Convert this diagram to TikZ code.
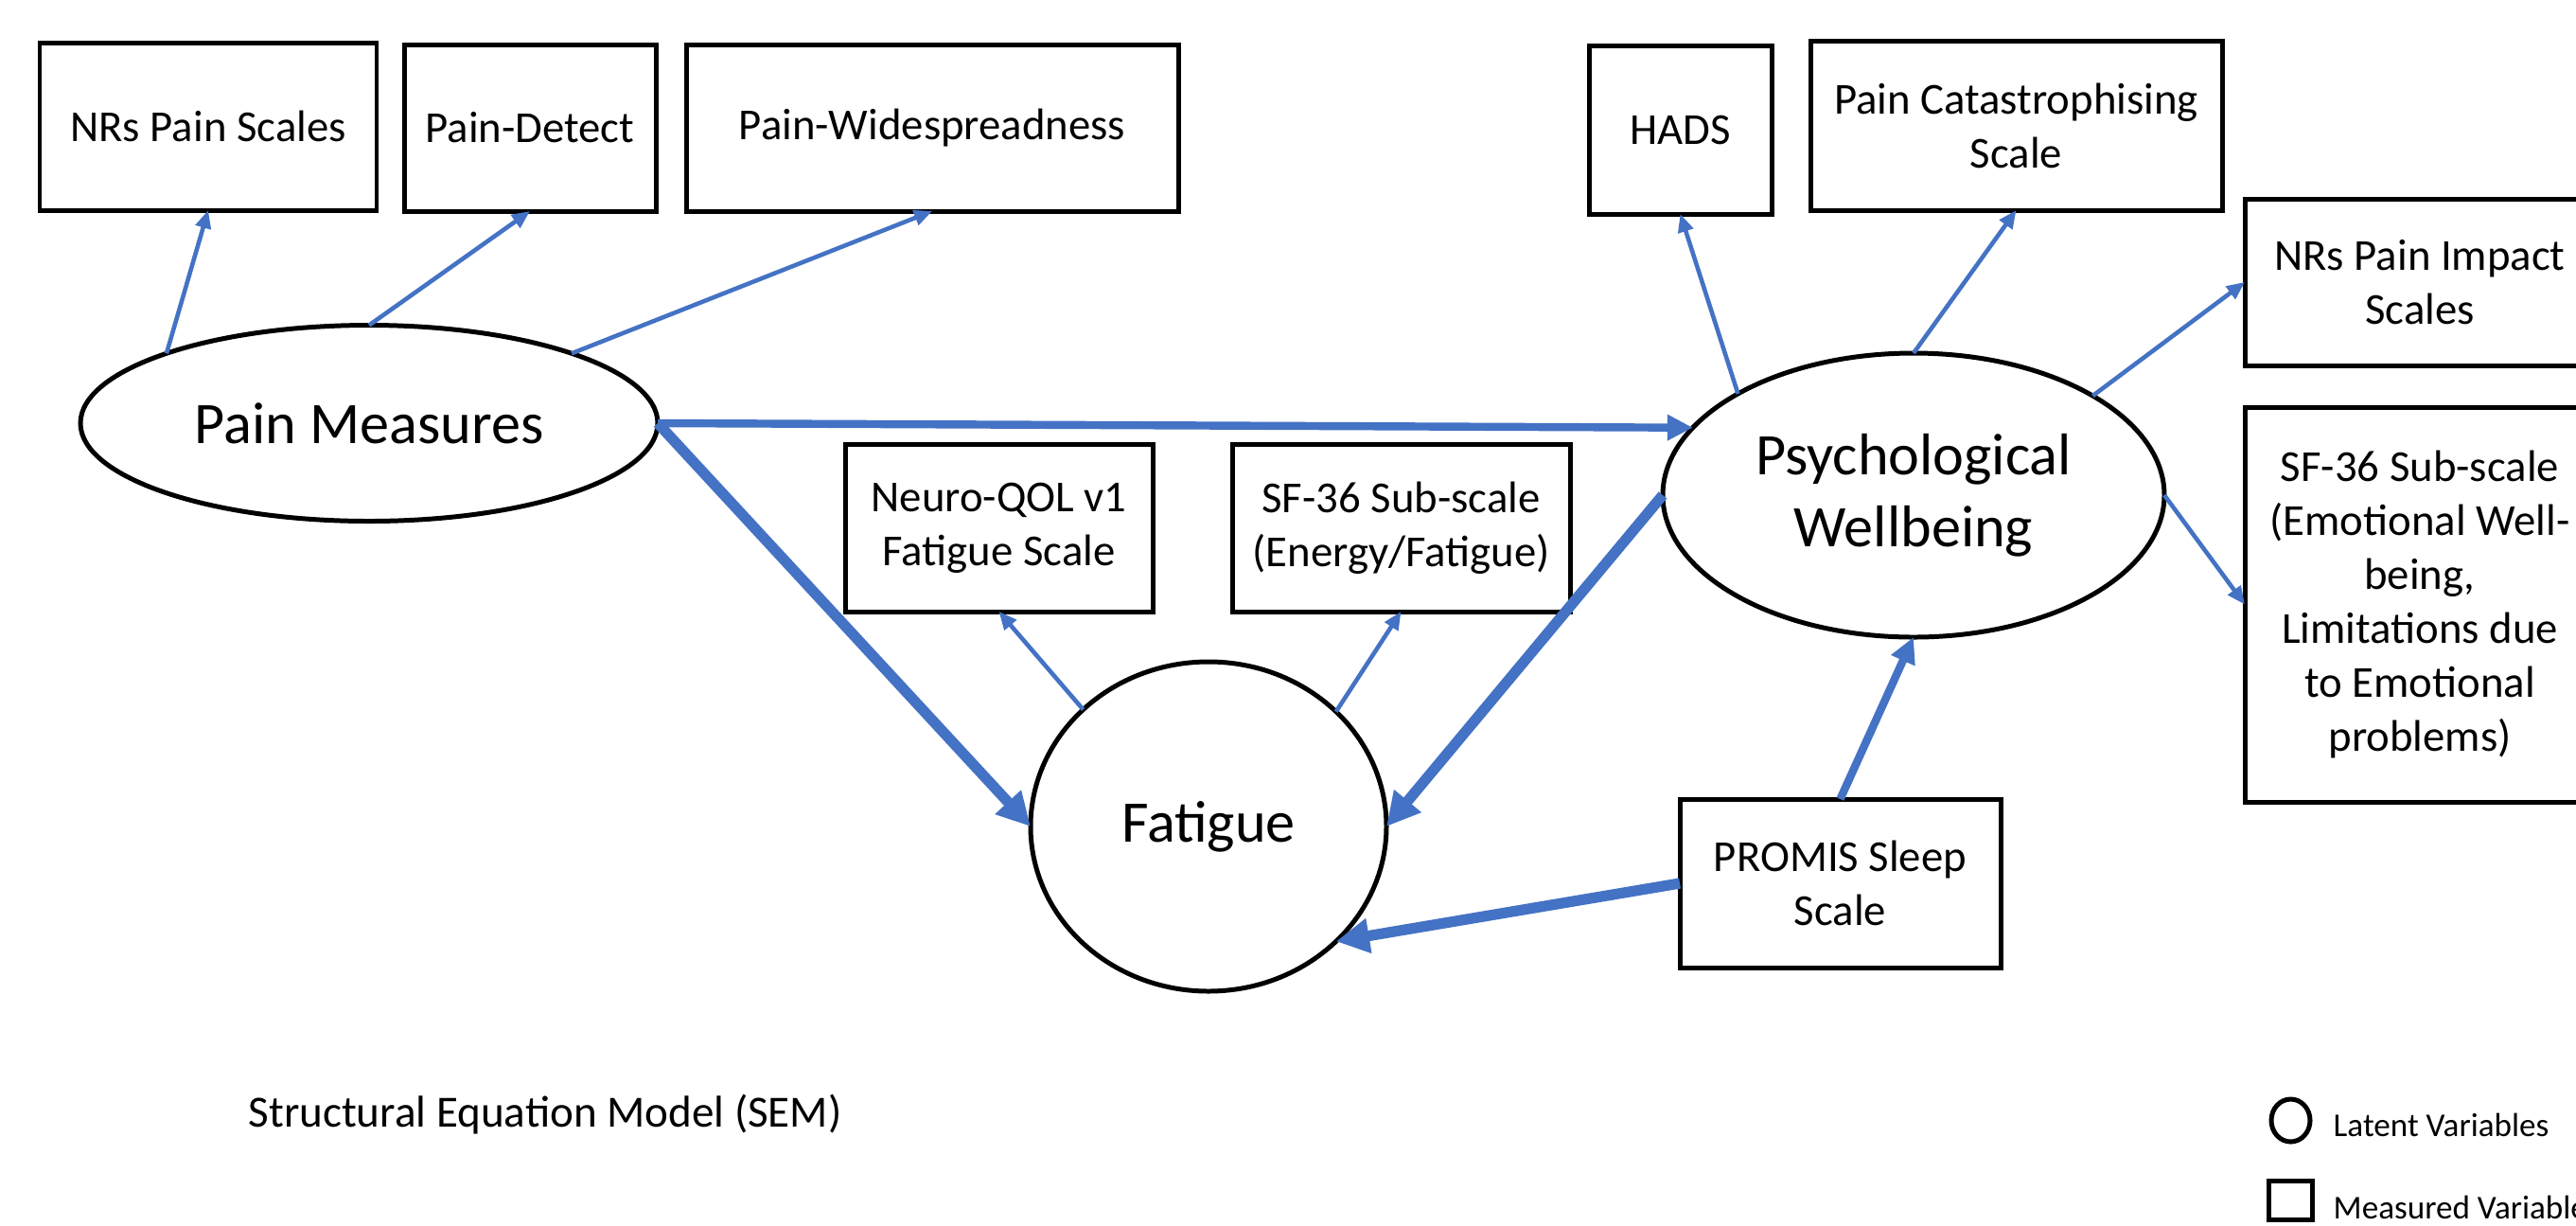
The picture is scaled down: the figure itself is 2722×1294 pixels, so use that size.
\documentclass[tikz,border=0pt]{standalone}
\usepackage{fontspec}
\setmainfont{Carlito}
\usetikzlibrary{arrows.meta,shapes.geometric}
\definecolor{arrblue}{HTML}{4472C4}
\newcommand{\boxfont}{\fontsize{13.3}{16.2}\selectfont}
\newcommand{\bigfont}{\fontsize{17.7}{21.6}\selectfont}
\newcommand{\capfont}{\fontsize{13.4}{16}\selectfont}
\newcommand{\legfont}{\fontsize{10}{12}\selectfont}
\begin{document}
\begin{tikzpicture}[x=0.28453pt, y=-0.28453pt,
  pxsize/.style 2 args={minimum width=#1*0.28453pt, minimum height=#2*0.28453pt},
  mbox/.style={draw=black, line width=1.42pt, fill=white, rectangle, inner sep=0pt, outer sep=0pt, align=center, font=\boxfont},
  latent/.style={draw=black, line width=1.42pt, fill=white, ellipse, inner sep=0pt, outer sep=0pt, align=center, font=\bigfont},
  thinarr/.style={draw=arrblue, line width=1.3pt, -{Triangle[length=5.4pt,width=4.6pt]}},
  medarr/.style={draw=arrblue, line width=2.4pt, -{Triangle[length=7.7pt,width=7.4pt]}},
  thickarr/.style={draw=arrblue, line width=3.2pt, -{Triangle[length=10pt,width=10pt]}}]
\fill[white] (0,0) rectangle (2722,1294);
\clip (0,0) rectangle (2722,1294);
% measured variables
\node[mbox, pxsize={356}{177}] (nrs) at (220,133.5) {NRs Pain Scales};
\node[mbox, pxsize={266}{176}] (pd) at (560,135) {Pain-Detect};
\node[mbox, pxsize={520}{176}] (pw) at (985,135) {Pain-Widespreadness};
\node[mbox, pxsize={193}{178}] (hads) at (1775.5,137) {HADS};
\node[mbox, pxsize={435}{179}] (pcs) at (2130.5,132.5) {Pain Catastrophising\\Scale};
\node[mbox, pxsize={370}{176}] (imp) at (2557,298) {NRs Pain Impact\\Scales};
\node[mbox, pxsize={370}{417}] (sfemo) at (2557,638.5) {SF-36 Sub-scale\\(Emotional Well-\\being,\\Limitations due\\to Emotional\\problems)};
\node[mbox, pxsize={325}{177}] (neuro) at (1055.5,557.5) {Neuro-QOL v1\\Fatigue Scale};
\node[mbox, pxsize={357}{177}] (sfen) at (1480.5,557.5) {SF-36 Sub-scale\\(Energy/Fatigue)};
\node[mbox, pxsize={339}{178}] (promis) at (1944.5,933) {PROMIS Sleep\\Scale};
% latent variables
\node[latent, pxsize={610}{207}] (pm) at (390,447) {Pain Measures};
\node[latent, pxsize={530}{300}] (psy) at (2022,523) {Psychological\\Wellbeing};
\node[latent, pxsize={376}{348}] (fat) at (1277,873) {Fatigue};
% connectors
\draw[thinarr] (pm.161) -- (nrs.south);
\draw[thinarr] (pm.north) -- (pd.south);
\draw[thinarr] (pm.19) -- (pw.south);
\draw[thinarr] (psy.150) -- (hads.south);
\draw[thinarr] (psy.north) -- (pcs.south);
\draw[thinarr] (psy.29) -- (imp.west);
\draw[thinarr] (psy.east) -- (sfemo.west);
\draw[thinarr] (fat.137) -- (neuro.south);
\draw[thinarr] (fat.42) -- (sfen.south);
\draw[medarr] (pm.east) -- (psy.163);
\draw[medarr] (promis.north) -- (psy.south);
\draw[thickarr] (pm.east) -- (fat.west);
\draw[thickarr] (psy.west) -- (fat.east);
\draw[thickarr] (promis.west) -- (fat.-42);
% caption and legend
\node[anchor=base west, inner sep=0pt, font=\capfont] (cap) at (262,1190) {Structural Equation Model (SEM)};
\node[draw=black, line width=1.42pt, ellipse, inner sep=0pt, pxsize={41}{45}] (legc) at (2420.5,1183.5) {};
\node[anchor=base west, inner sep=0pt, font=\legfont] (legct) at (2465,1200) {Latent Variables};
\node[draw=black, line width=1.42pt, rectangle, inner sep=0pt, pxsize={46}{41}] (legs) at (2420,1267.5) {};
\node[anchor=base west, inner sep=0pt, font=\legfont] (legst) at (2465,1287) {Measured Variables};
\end{tikzpicture}
\end{document}
